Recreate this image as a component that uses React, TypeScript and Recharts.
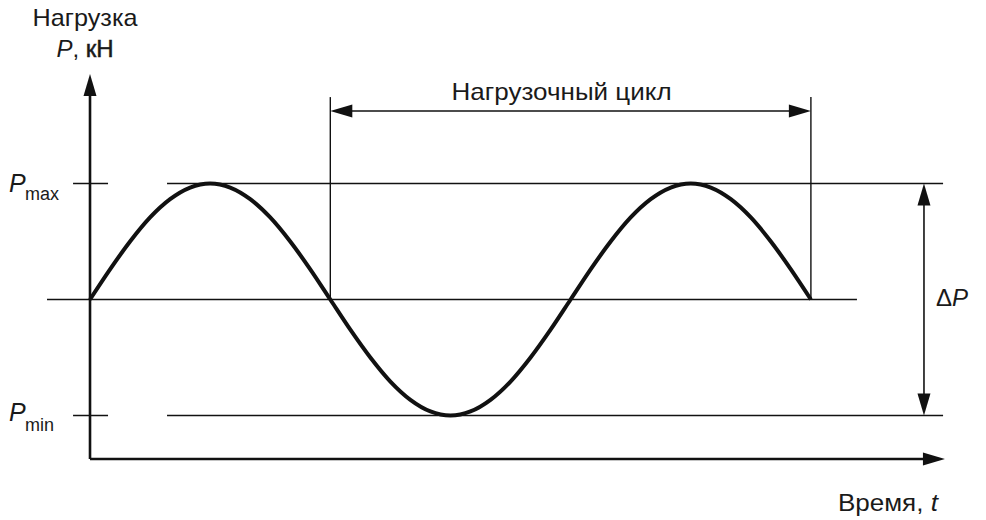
import React from "react";
import { LineChart, Line, XAxis, YAxis, ReferenceLine } from "recharts";

// phase of the load cycle, degrees
const time = [
  0, 15, 30, 45, 60, 75, 90, 105, 120, 135, 150, 165, 180, 195, 210, 225, 240, 255, 270,
  285, 300, 315, 330, 345, 360, 375, 390, 405, 420, 435, 450, 465, 480, 495, 510, 525, 540,
];
// load P, kN
const load = [
  5.5, 6.54, 7.5, 8.33, 8.96, 9.36, 9.5, 9.36, 8.96, 8.33, 7.5, 6.54, 5.5, 4.46, 3.5, 2.67,
  2.04, 1.64, 1.5, 1.64, 2.04, 2.67, 3.5, 4.46, 5.5, 6.54, 7.5, 8.33, 8.96, 9.36, 9.5, 9.36,
  8.96, 8.33, 7.5, 6.54, 5.5,
];

const P_MAX = 9.5;
const P_MIN = 1.5;
const P_MEAN = 5.5;
const cycle = [180, 540];

const data = time.map((t, i) => ({ t, P: load[i] }));

// layout of the annotation lines (data units)
const X_DOMAIN: [number, number] = [-67.42, 671.16];
const Y_DOMAIN: [number, number] = [-2.103, 15.828];
const X_END = 640.4;
const Y_END = 13.28;
const LEVEL_TICK: [number, number] = [-12.7, 13.5];
const LEVEL_LINE: [number, number] = [57.7, 639];
const MEAN_LINE: [number, number] = [-32.2, 574.5];
const CYCLE_TOP = 12.48;
const CYCLE_ARROW = 12.0;
const DELTA_X = 624.7;

const INK = "#111";
const FONT = "'Liberation Sans', Arial, sans-serif";
const HEAD_LEN = 22;
const HEAD_W = 13;

type Coords = { x1: number; y1: number; x2: number; y2: number };

function arrowShape(
  start: boolean,
  end: boolean,
  width: number,
  text?: (c: Coords) => React.ReactNode
) {
  return (props: any) => {
    const { x1, y1, x2, y2 } = props as Coords;
    const dx = x2 - x1;
    const dy = y2 - y1;
    const len = Math.hypot(dx, dy) || 1;
    const ux = dx / len;
    const uy = dy / len;
    const px = (-uy * HEAD_W) / 2;
    const py = (ux * HEAD_W) / 2;
    const head = (tx: number, ty: number, dir: number) => {
      const bx = tx - dir * ux * HEAD_LEN;
      const by = ty - dir * uy * HEAD_LEN;
      return `${tx},${ty} ${bx + px},${by + py} ${bx - px},${by - py}`;
    };
    const sx = start ? x1 + ux * (HEAD_LEN - 2) : x1;
    const sy = start ? y1 + uy * (HEAD_LEN - 2) : y1;
    const ex = end ? x2 - ux * (HEAD_LEN - 2) : x2;
    const ey = end ? y2 - uy * (HEAD_LEN - 2) : y2;
    return (
      <g>
        <line x1={sx} y1={sy} x2={ex} y2={ey} stroke={INK} strokeWidth={width} />
        {end && <polygon points={head(x2, y2, 1)} fill={INK} />}
        {start && <polygon points={head(x1, y1, -1)} fill={INK} />}
        {text && text({ x1, y1, x2, y2 })}
      </g>
    );
  };
}

const textStyle = { fontFamily: FONT, fill: "#1a1a1a" };

// P with a lowered index, placed left of the level tick
const levelLabel = (sub: string, dyP: number, dySub: number) => (c: Coords) => (
  <g>
    <text x={c.x1 - 64} y={c.y1 + dyP} style={textStyle} fontSize={25} fontStyle="italic">
      P
    </text>
    <text x={c.x1 - 48} y={c.y1 + dySub} style={textStyle} fontSize={18}>
      {sub}
    </text>
  </g>
);

export default function App() {
  return (
    <div style={{ position: "absolute", left: 0, top: 0, background: "#fff" }}>
      <LineChart width={986} height={520} data={data} margin={{ top: 0, right: 0, bottom: 0, left: 0 }}>
        <XAxis dataKey="t" type="number" domain={X_DOMAIN} allowDataOverflow hide />
        <YAxis type="number" domain={Y_DOMAIN} allowDataOverflow hide />

        {/* level lines */}
        <ReferenceLine
          segment={[{ x: LEVEL_TICK[0], y: P_MAX }, { x: LEVEL_TICK[1], y: P_MAX }]}
          shape={arrowShape(false, false, 1.6, levelLabel("max", 8, 16))}
        />
        <ReferenceLine
          segment={[{ x: LEVEL_LINE[0], y: P_MAX }, { x: LEVEL_LINE[1], y: P_MAX }]}
          stroke={INK}
          strokeWidth={1.6}
        />
        <ReferenceLine
          segment={[{ x: LEVEL_TICK[0], y: P_MIN }, { x: LEVEL_TICK[1], y: P_MIN }]}
          shape={arrowShape(false, false, 1.6, levelLabel("min", 5, 15))}
        />
        <ReferenceLine
          segment={[{ x: LEVEL_LINE[0], y: P_MIN }, { x: LEVEL_LINE[1], y: P_MIN }]}
          stroke={INK}
          strokeWidth={1.6}
        />
        <ReferenceLine
          segment={[{ x: MEAN_LINE[0], y: P_MEAN }, { x: MEAN_LINE[1], y: P_MEAN }]}
          stroke={INK}
          strokeWidth={1.6}
        />

        {/* cycle markers */}
        {cycle.map((c) => (
          <ReferenceLine
            key={c}
            segment={[{ x: c, y: P_MEAN }, { x: c, y: CYCLE_TOP }]}
            stroke={INK}
            strokeWidth={1.4}
          />
        ))}
        <ReferenceLine
          segment={[{ x: cycle[0], y: CYCLE_ARROW }, { x: cycle[1], y: CYCLE_ARROW }]}
          shape={arrowShape(true, true, 1.6, (c) => (
            <text
              x={(c.x1 + c.x2) / 2 - 9}
              y={c.y1 - 11}
              textAnchor="middle"
              style={textStyle}
              fontSize={24}
              textLength={220}
              lengthAdjust="spacingAndGlyphs"
            >
              Нагрузочный цикл
            </text>
          ))}
        />

        {/* delta P */}
        <ReferenceLine
          segment={[{ x: DELTA_X, y: P_MIN }, { x: DELTA_X, y: P_MAX }]}
          shape={arrowShape(true, true, 1.6, (c) => (
            <text x={c.x1 + 12} y={(c.y1 + c.y2) / 2 + 6} style={textStyle} fontSize={24}>
              Δ<tspan fontStyle="italic">P</tspan>
            </text>
          ))}
        />

        {/* axes */}
        <ReferenceLine
          segment={[{ x: 0, y: 0 }, { x: 0, y: Y_END }]}
          shape={arrowShape(false, true, 2.6, (c) => (
            <g>
              <text
                x={c.x2 - 5}
                y={c.y2 - 48}
                textAnchor="middle"
                style={textStyle}
                fontSize={24}
                textLength={105}
                lengthAdjust="spacingAndGlyphs"
              >
                Нагрузка
              </text>
              <text x={c.x2 - 5} y={c.y2 - 17} textAnchor="middle" style={textStyle} fontSize={24}>
                <tspan fontStyle="italic">P</tspan>,{" "}
                <tspan stroke="#1a1a1a" strokeWidth={0.5}>кН</tspan>
              </text>
            </g>
          ))}
        />
        <ReferenceLine
          segment={[{ x: 0, y: 0 }, { x: X_END, y: 0 }]}
          shape={arrowShape(false, true, 2.6, (c) => (
            <text
              x={c.x2 - 7}
              y={c.y2 + 52}
              textAnchor="end"
              style={textStyle}
              fontSize={24}
              textLength={100}
              lengthAdjust="spacingAndGlyphs"
            >
              Время, <tspan fontStyle="italic">t</tspan>
            </text>
          ))}
        />

        <Line
          type="monotone"
          dataKey="P"
          stroke={INK}
          strokeWidth={4}
          dot={false}
          activeDot={false}
          isAnimationActive={false}
        />
      </LineChart>
    </div>
  );
}
